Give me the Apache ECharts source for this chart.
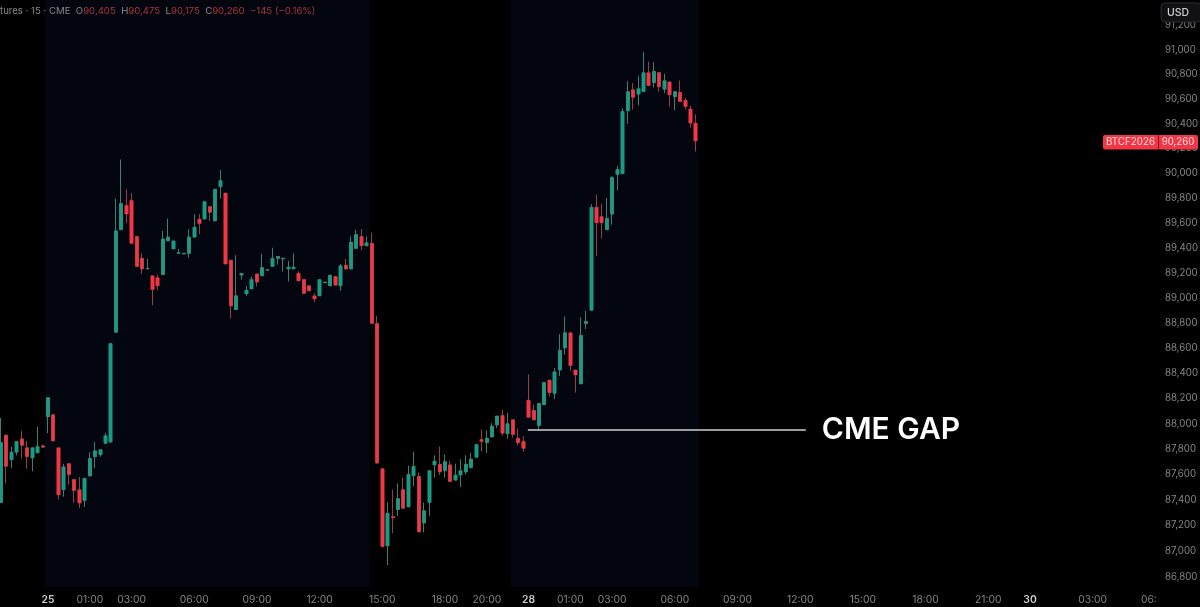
<!DOCTYPE html>
<html><head><meta charset="utf-8">
<style>html,body{margin:0;padding:0;background:#000}#c{width:1200px;height:607px}</style>
<script src="https://cdn.jsdelivr.net/npm/echarts@6/dist/echarts.min.js"></script>
</head><body><div id="c"></div>
<script>
const opens=[87380,87910,87715,87775,87880,87810,87730,87770,87825,88055,88070,87810,87480,87685,87560,87480,87395,87590,87740,87755,87845,87855,88725,89545,89740,89780,89490,89315,89230,89175,89160,89185,89455,89390,89355,89350,89355,89485,89630,89630,89730,89615,89890,89840,89300,88905,89180,89030,89070,89190,89175,89220,89250,89315,89310,89230,89230,89195,89145,89095,89015,89015,89120,89095,89170,89095,89260,89230,89395,89490,89415,89435,88795,87645,87040,87270,87325,87480,87345,87590,87585,87220,87380,87675,87680,87630,87675,87555,87595,87620,87655,87735,87875,87850,87895,87990,88065,87920,88030,87885,87860,88185,88105,87985,88150,88345,88240,88425,88600,88720,88425,88315,88795,88900,89725,89650,89545,89670,89990,89995,90505,90675,90640,90660,90815,90735,90815,90680,90740,90620,90655,90590,90520,90405];
const closes=[87850,87665,87775,87860,87830,87740,87810,87820,87815,88205,87865,87440,87660,87600,87475,87375,87570,87725,87785,87795,87905,88635,89535,89755,89670,89435,89250,89230,89235,89065,89095,89470,89485,89455,89360,89355,89485,89565,89595,89770,89685,89870,89940,89270,88935,89015,89195,89060,89145,89125,89240,89225,89315,89330,89315,89245,89245,89135,89035,89055,88990,89145,89125,89180,89100,89255,89230,89445,89505,89415,89440,88795,87690,87035,87295,87260,87410,87335,87600,87665,87150,87315,87630,87705,87620,87700,87545,87595,87630,87680,87720,87835,87860,87885,87980,88060,87925,88000,87915,87850,87805,88050,88030,88160,88325,88245,88410,88580,88720,88460,88385,88700,88810,89725,89600,89600,89635,89965,90030,90500,90660,90615,90685,90815,90710,90825,90700,90750,90635,90660,90580,90540,90405,90260];
const lows=[87380,87530,87650,87750,87725,87645,87625,87770,87815,87925,87860,87405,87425,87520,87380,87335,87345,87580,87650,87740,87845,87845,88725,89545,89600,89435,89245,89190,89230,88940,89060,89185,89455,89390,89355,89350,89320,89485,89510,89630,89615,89615,89795,89265,88835,88905,89145,89015,89070,89090,89175,89220,89250,89265,89210,89130,89230,89135,89030,89055,88965,89015,89120,89095,89100,89055,89220,89230,89395,89380,89415,88790,87685,87030,86890,87140,87275,87335,87345,87510,87150,87145,87275,87575,87595,87575,87545,87555,87500,87600,87645,87735,87780,87770,87895,87965,87905,87880,87890,87830,87780,88050,88030,87955,88150,88215,88195,88375,88545,88420,88245,88315,88750,88900,89335,89475,89545,89585,89860,89995,90400,90515,90550,90660,90710,90695,90660,90650,90540,90510,90580,90515,90370,90175];
const highs=[88045,87910,87820,87860,87945,87865,87810,87975,87835,88205,88075,87810,87685,87685,87560,87580,87570,87775,87855,87795,87925,88635,89795,90110,89870,89840,89490,89355,89310,89175,89185,89535,89635,89455,89390,89355,89550,89670,89670,89770,89730,89870,90025,89840,89300,89340,89195,89095,89170,89190,89350,89225,89400,89330,89315,89295,89355,89210,89145,89095,89035,89145,89125,89180,89170,89270,89310,89490,89545,89550,89490,89520,88855,87650,87380,87480,87530,87575,87670,87780,87615,87380,87630,87750,87820,87755,87705,87685,87720,87750,87770,87835,87955,87945,88005,88060,88110,88085,88030,87960,87900,88390,88150,88160,88325,88345,88440,88710,88850,88730,88425,88845,88895,89750,89825,89755,89800,89975,90060,90525,90745,90730,90790,90985,90905,90900,90815,90805,90740,90660,90750,90610,90545,90475];

const slotCount=222;
const tickIndex=[9,17,25,37,49,61,73,85,93,101,109,117,129,141,153,165,177,189,197,209,221];
const tickText=['25','01:00','03:00','06:00','09:00','12:00','15:00','18:00','20:00','28','01:00','03:00','06:00','09:00','12:00','15:00','18:00','21:00','30','03:00','06:'];
const priceTicks=[86800,87000,87200,87400,87600,87800,88000,88200,88400,88600,88800,89000,89200,89400,89600,89800,90000,90200,90400,90600,90800,91000,91200];
const sessions=[[8.42,70.6],[97.6,133.6]];
const gapPrice=87953, gapFrom=100.86, gapTo=154.07;

const categories=Array.from({length:slotCount},(_,i)=>{const k=tickIndex.indexOf(i);return k>=0?tickText[k]:'';});
const wickData=opens.map((o,i)=>[o,closes[i],lows[i],highs[i]]);
const bodyData=opens.map((o,i)=>[o,closes[i],Math.min(o,closes[i]),Math.max(o,closes[i])]);
const RED='#f23645',GREEN='#1a9a82',AXIS='#858585',HDR='#8a8a8a',HRED='#a83440';
const FONT='Inter';

const chart=echarts.init(document.getElementById('c'),null,{renderer:'canvas'});
chart.setOption({
 animation:false,backgroundColor:'#000',
 title:{left:0,top:6,padding:0,itemGap:0,textStyle:{fontFamily:FONT,fontSize:9.6,fontWeight:400,color:HDR,
   rich:{g:{color:HDR,fontFamily:FONT,fontSize:9.6},r:{color:HRED,fontFamily:FONT,fontSize:9.6}}},
   text:'{g|tures · 15 · CME}  {g|O}{r|90,405}  {g|H}{r|90,475}  {g|L}{r|90,175}  {g|C}{r|90,260}  {r|−145 (−0.16%)}'},
 grid:{left:-1.6,right:42,top:0,bottom:20,outerBoundsMode:'none'},
 xAxis:[{type:'category',data:categories,boundaryGap:true,
   axisLine:{show:false},axisTick:{show:false},splitLine:{show:false},
   axisLabel:{interval:(i)=>tickIndex.indexOf(i)>=0,margin:8,color:AXIS,fontFamily:FONT,fontSize:10.3,hideOverlap:false,
     formatter:(v)=>{if(v==='25'||v==='28'||v==='30')return '{b|'+v+'}';if(v==='06:')return '{c|06:}';return v;},
     rich:{b:{color:'#cfcfcf',fontWeight:600,fontFamily:FONT,fontSize:10.3},c:{color:AXIS,fontFamily:FONT,fontSize:10.3,padding:[0,13,0,0]}}}},
  {type:'value',min:-0.5,max:slotCount-0.5,show:false,splitLine:{show:false}}],
 yAxis:{type:'log',logBase:10,min:86720,max:91409,position:'right',
   axisLine:{show:false},axisTick:{show:false},splitLine:{show:false},
   axisLabel:{customValues:priceTicks,margin:7,color:AXIS,fontFamily:FONT,fontSize:9.7,align:'left',
     formatter:(v)=>Math.round(v).toLocaleString('en-US'),showMinLabel:true,showMaxLabel:true}},
 series:[
  {type:'line',xAxisIndex:1,yAxisIndex:0,z:1,silent:true,data:[],showSymbol:false,
   markArea:{silent:true,itemStyle:{color:'#04060f'},data:sessions.map(s=>[{xAxis:s[0]},{xAxis:s[1]}])}},
  {type:'candlestick',data:wickData,barWidth:3,z:3,itemStyle:{color:'#3f7f72',color0:'#94404a',borderColor:'#3f7f72',borderColor0:'#94404a',borderWidth:1}},
  {type:'candlestick',data:bodyData,barWidth:4,z:4,itemStyle:{color:GREEN,color0:RED,borderColor:GREEN,borderColor0:RED,borderWidth:0}},
  {type:'line',xAxisIndex:1,yAxisIndex:0,z:5,silent:true,data:[],showSymbol:false,
   markLine:{silent:true,symbol:'none',lineStyle:{color:'#cfcfcf',width:1.5,type:'solid'},
    label:{show:true,position:'end',distance:16,formatter:'CME GAP',color:'#fff',fontFamily:FONT,fontWeight:600,fontSize:30,lineHeight:34,padding:[4,0,0,0]},
    data:[[{xAxis:gapFrom,yAxis:gapPrice},{xAxis:gapTo,yAxis:gapPrice}]]}}
 ],
 graphic:[
  {type:'rect',z:100,shape:{x:1103,y:135,width:55,height:14.5,r:[2,0,0,2]},style:{fill:RED}},
  {type:'rect',z:100,shape:{x:1158.5,y:135,width:39.5,height:14.5,r:[0,2,2,0]},style:{fill:RED}},
  {type:'text',z:101,style:{x:1130.5,y:142.5,text:'BTCF2026',fill:'#fbdde0',font:'400 9.8px '+FONT,textAlign:'center',textVerticalAlign:'middle'}},
  {type:'text',z:101,style:{x:1178,y:142.5,text:'90,260',fill:'#fbdde0',font:'400 9.7px '+FONT,textAlign:'center',textVerticalAlign:'middle'}},
  {type:'rect',z:100,shape:{x:1161,y:3,width:40,height:19,r:4},style:{fill:'#111113',stroke:'#2a2a2c',lineWidth:1}},
  {type:'text',z:101,style:{x:1167,y:12.5,text:'USD',fill:'#d0d0d0',font:'500 10.5px '+FONT,textVerticalAlign:'middle'}}
 ]
});
</script></body></html>
